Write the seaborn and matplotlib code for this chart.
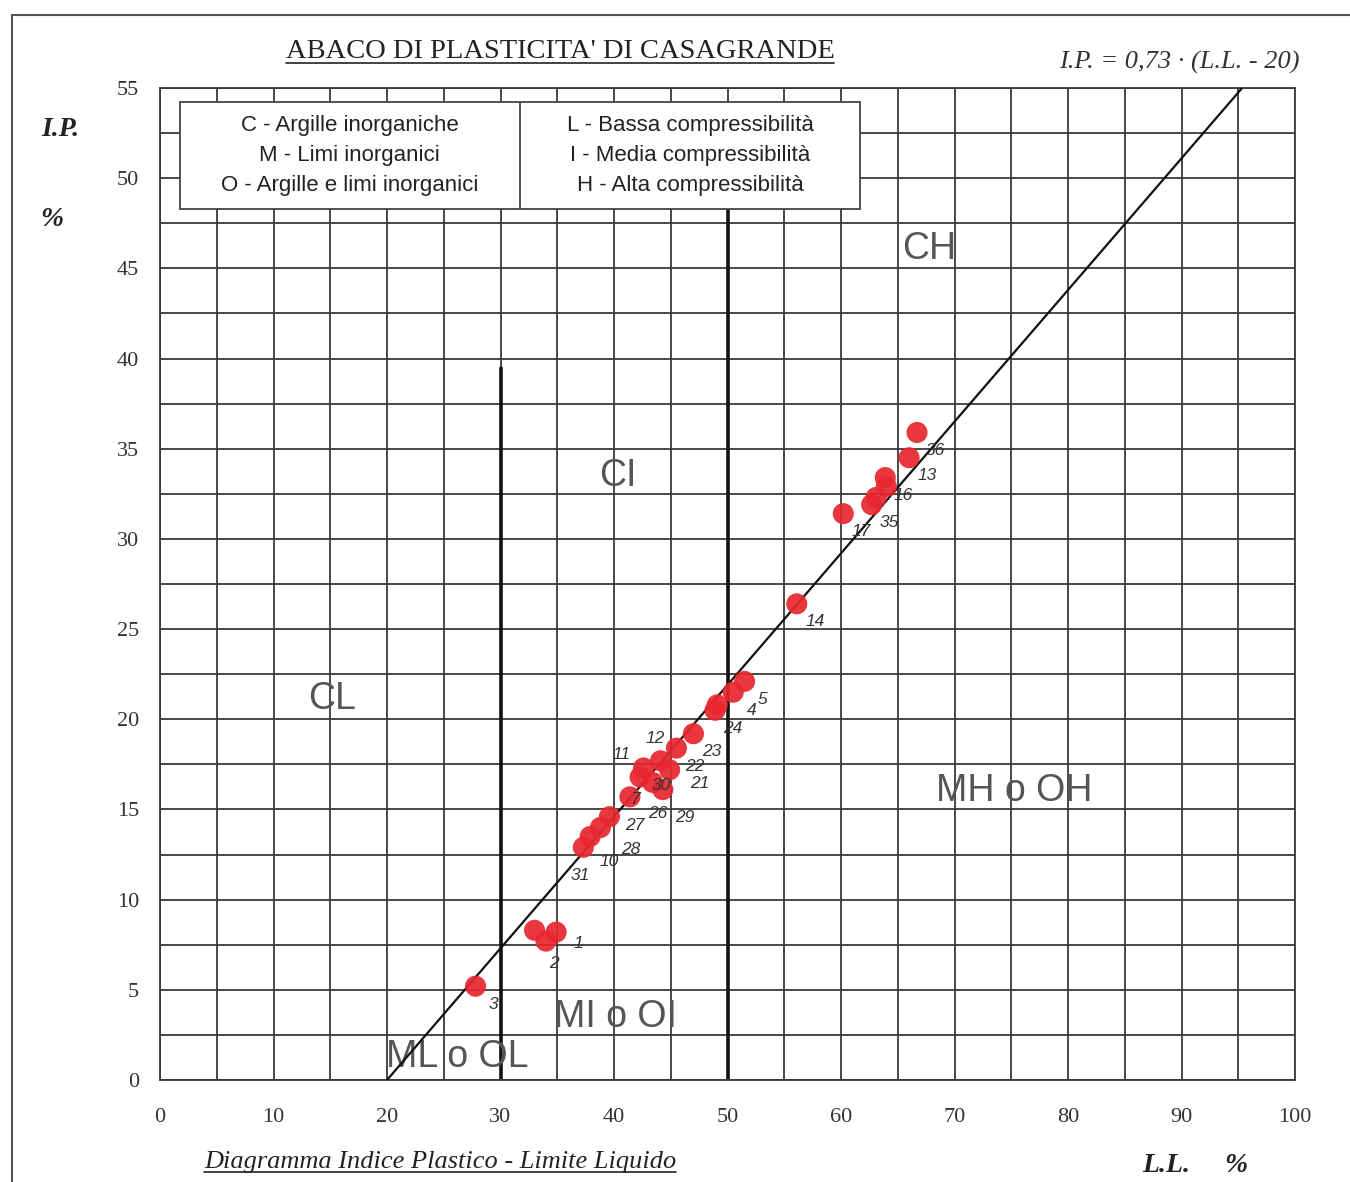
import numpy as np
import pandas as pd
import matplotlib.pyplot as plt
from matplotlib.lines import Line2D
from matplotlib.patches import Rectangle
import seaborn as sns

# sample points (L.L. %, I.P. %, sample number)
ll = [27.8, 33.0, 34.0, 34.9, 37.3, 37.9, 38.8, 39.6, 41.4, 42.3, 42.6, 43.4,
      44.1, 44.3, 44.9, 45.5, 47.0, 48.9, 49.1, 50.5, 51.5, 56.1, 60.2, 62.7,
      63.1, 63.9, 64.0, 66.0, 66.7]
ip = [5.2, 8.3, 7.7, 8.2, 12.9, 13.5, 14.0, 14.6, 15.7, 16.8, 17.3, 16.5,
      17.7, 16.1, 17.2, 18.4, 19.2, 20.5, 20.8, 21.5, 22.1, 26.4, 31.4, 31.9,
      32.3, 33.4, 32.9, 34.5, 35.9]
labels = ["3", "", "2", "1", "31", "10", "28", "27", "26", "7", "11", "30",
          "12", "29", "21", "22", "23", "24", "", "4", "5", "14", "17", "35",
          "", "16", "", "13", "36"]

# A-line end points
aline_ll = [20.0, 20.0 + 55 / 0.73]

zones = ["CH", "CI", "CL", "MH o OH", "MI o OI", "ML o OL"]
zone_ll = [67.8, 40.3, 15.2, 75.3, 40.1, 26.2]
zone_ip = [46.1, 33.5, 21.1, 16.0, 3.5, 1.3]

legend_left = ["C - Argille inorganiche", "M - Limi inorganici",
               "O - Argille e limi inorganici"]
legend_right = ["L - Bassa compressibilità", "I - Media compressibilità",
                "H - Alta compressibilità"]

# label offsets (points) where the default one would pile up in the cluster
offsets = {"7": (-4, -16), "11": (-16, 10), "30": (6, -2), "12": (-4, 16),
           "21": (22, -10), "29": (16, -20), "28": (22, -16), "27": (18, -6),
           "26": (20, -12), "10": (14, -18), "31": (-2, -20), "2": (6, -16),
           "1": (16, -8)}

sns.set_style("white")
plt.rcParams['font.family'] = ['Liberation Sans', 'DejaVu Sans']
serif = ['Liberation Serif', 'DejaVu Serif']
grid_c = '#3a3a3a'

fig = plt.figure(figsize=(13.5, 11.82), dpi=100)
ax = fig.add_axes([160 / 1350, 1 - 1080 / 1182, 1135 / 1350, 992 / 1182])

ax.set_xlim(0, 100)
ax.set_ylim(0, 55)
ax.set_xticks(np.arange(0, 101, 10))
ax.set_xticks(np.arange(5, 100, 10), minor=True)
ax.set_yticks(np.arange(0, 56, 5))
ax.set_yticks(np.arange(2.5, 55, 5), minor=True)
ax.grid(True, which='both', color=grid_c, linewidth=1.3, zorder=0)
ax.set_axisbelow(True)
ax.tick_params(axis='x', which='both', direction='out', length=12, width=1.3,
               color=grid_c, pad=8)
ax.tick_params(axis='y', which='both', direction='out', length=9, width=1.3,
               color=grid_c, pad=6)
for lab in ax.get_xticklabels() + ax.get_yticklabels():
    lab.set_family(serif)
    lab.set_fontsize(16)
    lab.set_color('#333333')
for s in ax.spines.values():
    s.set_color(grid_c)
    s.set_linewidth(1.3)

# thicker boundaries between low / medium / high compressibility
ax.axvline(30, ymax=39.5 / 55, color='#111111', linewidth=2.6, zorder=1)
ax.axvline(50, ymax=48.3 / 55, color='#111111', linewidth=2.6, zorder=1)

# A-line
aline = pd.DataFrame({'ll': aline_ll})
aline['ip'] = 0.73 * (aline['ll'] - 20)
sns.lineplot(data=aline, x='ll', y='ip', color='#111111', linewidth=1.6,
             ax=ax, zorder=3)

# samples
df = pd.DataFrame({'ll': ll, 'ip': ip, 'label': labels})
sns.scatterplot(data=df, x='ll', y='ip', color='#e8262f', s=230,
                edgecolor='none', alpha=0.92, ax=ax, zorder=4)
for _, r in df.iterrows():
    if r['label']:
        ax.annotate(r['label'], (r['ll'], r['ip']),
                    xytext=offsets.get(r['label'], (13, -13)),
                    textcoords='offset points', fontsize=12.5, style='italic',
                    color='#333333', ha='center', va='center', zorder=5)

for z, x, y in zip(zones, zone_ll, zone_ip):
    ax.text(x, y, z, fontsize=27, color='#555555', ha='center', va='center',
            zorder=2)

# legend box
ax.add_patch(Rectangle((1.8, 48.3), 59.9, 5.9, facecolor='white',
                       edgecolor='#444444', linewidth=1.3, zorder=6))
ax.plot([31.7, 31.7], [48.3, 54.2], color='#444444', linewidth=1.3, zorder=7)
for i, y in enumerate([52.9, 51.25, 49.6]):
    ax.text(16.7, y, legend_left[i], fontsize=16, color='#222222',
            ha='center', va='center', zorder=7)
    ax.text(46.7, y, legend_right[i], fontsize=16, color='#222222',
            ha='center', va='center', zorder=7)

ax.set_xlabel('')
ax.set_ylabel('')

# titles and axis names
title = fig.text(560 / 1350, 1 - 52 / 1182, "ABACO DI PLASTICITA' DI CASAGRANDE",
                 family=serif, fontsize=20.5, color='#222222', ha='center',
                 va='center')
fig.text(1300 / 1350, 1 - 62 / 1182, "I.P. = 0,73 · (L.L. - 20)", family=serif,
         fontsize=19, style='italic', color='#333333', ha='right', va='center')
fig.text(60 / 1350, 1 - 130 / 1182, "I.P.", family=serif, fontsize=20,
         style='italic', weight='bold', color='#222222', ha='center', va='center')
fig.text(52 / 1350, 1 - 220 / 1182, "%", family=serif, fontsize=20,
         style='italic', weight='bold', color='#222222', ha='center', va='center')
fig.text(1195 / 1350, 1 - 1166 / 1182, "L.L.     %", family=serif, fontsize=20,
         style='italic', weight='bold', color='#222222', ha='center', va='center')
caption = fig.text(440 / 1350, 1 - 1162 / 1182,
                   "Diagramma Indice Plastico - Limite Liquido", family=serif,
                   fontsize=19, style='italic', color='#222222', ha='center',
                   va='center')

# underlines for title and caption
fig.canvas.draw()
for t in [title, caption]:
    bb = t.get_window_extent().transformed(fig.transFigure.inverted())
    fig.add_artist(Line2D([bb.x0, bb.x1], [bb.y0 + 0.001, bb.y0 + 0.001],
                          color='#222222', linewidth=1.2))

# page frame
fig.add_artist(Line2D([12 / 1350, 12 / 1350], [0, 1 - 15 / 1182],
                      color='#555555', linewidth=1.5))
fig.add_artist(Line2D([12 / 1350, 1], [1 - 15 / 1182, 1 - 15 / 1182],
                      color='#555555', linewidth=1.5))

fig.savefig('out.png', dpi=100, facecolor='white')
